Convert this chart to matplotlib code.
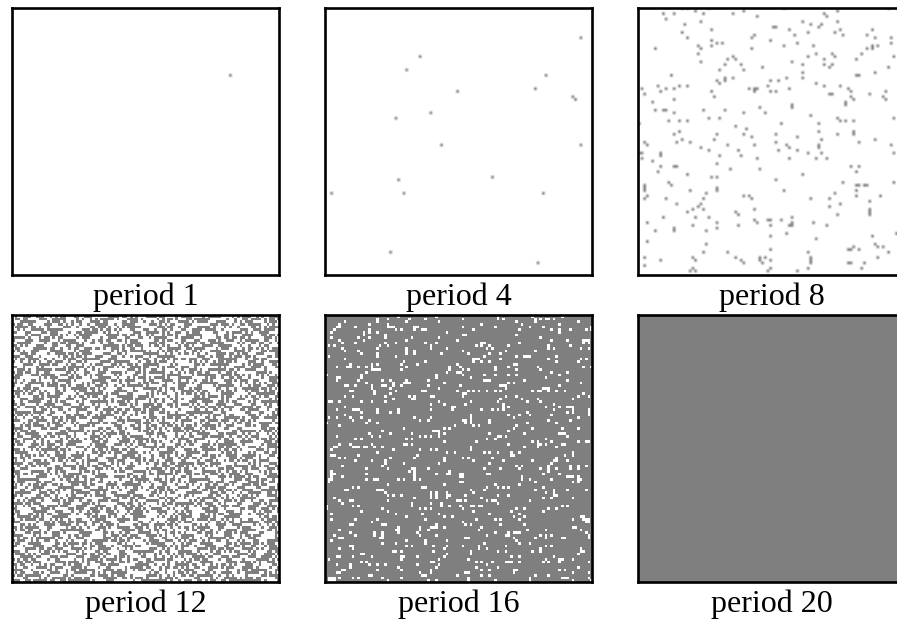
import numpy as np
from matplotlib import pyplot as plt

labels = ['period 1', 'period 4', 'period 8', 'period 12', 'period 16', 'period 20']

# filled cells (grid is 100 x 100) ... (col, row)
period1_cells = [(81, 25)]
period4_cells = [(95, 11), (35, 18), (30, 23), (82, 25), (78, 30), (49, 31), (92, 33), (93, 34), (39, 39), (26, 41),
                 (43, 51), (95, 51), (62, 63), (27, 64), (2, 69), (29, 69), (81, 69), (24, 91), (79, 95)]

# row : cols
period8_rows = {
    0: [16, 18, 26, 54, 93], 1: [21, 39, 74], 2: [9, 13, 24, 35, 69], 3: [44, 70], 4: [10], 5: [23, 61, 74],
    6: [17, 64, 68], 7: [50, 51, 67], 8: [27, 56, 75, 87], 9: [16, 63, 73], 10: [43, 58, 76, 85], 11: [18, 42, 88, 94],
    12: [27, 49], 13: [29, 31, 59, 94], 14: [22, 27, 54, 65, 87, 89], 15: [6, 23, 42, 85, 87], 17: [22, 66, 72, 83],
    18: [35, 63, 73, 95], 19: [33, 36, 69, 81], 20: [23, 57], 21: [32, 38, 61, 69, 72], 22: [46, 71, 93], 23: [30, 39],
    24: [61, 88], 25: [12, 81, 82], 26: [32, 35, 55, 61], 27: [29, 32, 49, 52], 28: [30, 66], 29: [7, 15, 18, 48, 69, 75],
    30: [1, 10, 13, 41, 43, 44, 56, 78], 31: [8, 27, 43, 49, 51, 79, 92], 32: [2, 71, 72, 86], 33: [28, 79, 91],
    34: [13, 80, 92], 35: [5, 77], 36: [57, 77], 37: [45, 57], 38: [6, 9, 10, 24, 32], 39: [13, 39, 47], 40: [64],
    41: [26, 30, 74, 95], 42: [11, 15, 18, 75, 77, 80], 43: [0, 53, 67], 44: [36], 45: [40], 46: [15, 67, 80],
    47: [13, 29, 39, 51, 74, 80], 48: [42, 59], 49: [16, 28, 68, 88], 50: [2, 14, 19, 51, 82], 51: [3, 33, 43, 55, 67, 94],
    52: [23, 56, 67], 53: [26, 37, 59, 52], 54: [0, 1, 8, 63, 68, 95], 55: [8, 30, 38], 56: [1, 44, 56, 66, 70], 57: [5],
    58: [29], 59: [8, 13, 14, 79, 82], 60: [34, 45], 61: [7, 81], 62: [18, 61], 63: [27, 29], 64: [51], 65: [11, 76, 95],
    66: [2, 12, 81, 82, 84, 85], 67: [2, 29], 68: [2, 19, 29, 54, 81], 69: [25, 73], 70: [3, 39, 41, 81, 90],
    71: [2, 10, 24, 42, 64, 71], 72: [86], 73: [14, 23, 75], 74: [22, 71], 75: [20, 24, 43, 86], 76: [18, 36, 86],
    77: [37, 74, 86], 78: [9, 21, 26, 57], 79: [43, 48, 49, 53], 80: [3, 29, 44, 57, 65], 81: [20, 37, 49, 56, 57, 70],
    82: [13, 29], 83: [6, 13, 25], 84: [55, 96], 85: [49, 87], 86: [66], 87: [3], 88: [25, 88], 89: [80, 89, 91],
    90: [49, 78, 79, 82], 91: [24, 33, 63, 93], 93: [2, 20, 36, 45, 47, 64, 89], 94: [8, 21, 38, 45, 49, 64],
    95: [39, 46, 64, 78, 79, 84], 96: [2], 97: [20, 49, 63, 83], 98: [19, 21, 48, 59],
}

# period 12 is too dense to read cell by cell, hand estimate of the texture, hex per row
period12_hex = [
    '4E72B19C0F6A3D85E17C2B94F', '6C39F0A57D1E82B46FC0937AD', '1F85D2C7B06E49A3D78F15C2E', 'B30E6A49F27C1D58E03BA6F94',
    '7DA41C86E95F03B2C7D1486AF', '29F7E03B5A8C64D19EF2073BC', 'C61B84DF29073EA65C18BD4F0', '05E3A97C1F6D28B47E09A3C6D',
    'FA2D60B84E3197C5F20DB683A', '873C5F12D9AE06B18C74E5F32', '3E09B7A64C2F1D857B3E0A6C9', 'D4718CE03F5B96A2D1E7C48B0',
    '60FB259DA74C813E6F0B92D57', 'A9C3E178056FD2B49A3C1E86F', '1D84F6BC39A07E52D48F6B1C3', 'E7205AD1C64B93F8072E5DA1B',
    '5BC9173F8E0264ADB9C7F1360', '92A6E4D07BF135C82A96D0E4F', '0F3D8B25C69A7E140D3F82BC6', 'C85017EA3D4F62B9C8051E7A3',
    '3A7EF692B01D4C853A7F69E20', 'B64C0D18E7A35F92B6C4D01E8', '71DF3A95C28640BE17F3DA952', 'E02B86C4F915D7A3E0B26C84F',
    '49A17D03E6BC58F249A1D730E', 'D3F58C2A70916E4BD3F8C52A7', '8617B4E9D25FA0C38617E4B9D', '2EC093F6A1847D5B2E0C93F6A',
    'F5A8D172C3E60B49F58AD172C', '6B34E09FD7182AC56B43E09FD', 'A0D7C56B31F9E8240D7AC56B3', '1CF28E30A47BD6951FC28E30A',
    '93E6B0A7F5D2148C39E6B0A7F', 'D84F1C6290EA7B35D48F1C629', '27B5E3D98A0C6F142B75E3D98', 'C09A64F13DB75E820C9A46F13',
    '7EF3108C5B62D9A47FE3018C5', 'B5260DE97C4A183FB25D60E97', '48D1AF73E2905CB648D1FA73E', 'E3796B04C1DF2A85E37B96A04',
    '0AC5D28FB64371E90AC52D8FB', '96F4E17A038D2CB569F4E1A70', 'F21B8C60D9A7354EF2B18C06D', '5D8037EBA4C1692F5D0837EBA',
    'A7C6F9125ED03B84A7C6F2915', '31EB4D07A86F92C531BE4D70A', 'CF502A96D173E84BCF05A296D', '6894E7C3B0F5AD126849E7C3B',
    'B1D72F05E3A9C486B1D7F205E', '03A6C8E9F4127DB503A6C8E9F', 'E95FB412D76C0A38E9F5B41D2', '7C28D0A36B9E51F47C82D0A36',
    '16B4F3E8C27D09A561B4F3E8C', 'DA0375C91E6F48B2DA3075C91', '48E96B2F0DC35A7184E96B2F0', 'F37C10A8E54926DBF73C10A8E',
    '25A8DF6B391C04E752A8DF6B3', '9C06E371D4B82F5AC906E371D', 'E1F4B05A82C7D396E1F4B50A8', '6D3A97C2E0185BF46D3A79C2E',
    'A0785EB1F3D6C249A0875EB1F', '3FC12D96408BE75A3FC21D964', 'B86E07F4CA3951D2B86E70F4C', '52D9A3B61E7F08C452D9A3B61',
    'C4F07E18D5269BA3C4F70E18D', '19A6D3C7F08E25B419A6D3C7F', '7E3B42F9A61C0D587E3B24F9A', 'D06C8B15E3F79A42D06C8B51E',
    '85F2A7E0396DC1B485F2A7E03', '2B91D64CF70A3E582B19D64CF', 'F6E05C3A81D942B7F6E50C3A8', '4A37B8F1E26D90C54A73B8F1E',
    'C19D06E75A3B4F28C1D906E75', '60F8E24B9D17A3C560F8E42B9', 'A3567C9D0E2F814BA3567C9D0', '3ED1F80B6A47C295E3D1F80B6',
    '97B2A4C5E1F6083D97B2A4C5E', 'E04D76F3B8C1925AE04D67F3B', '1A8F3C925D06E7B41A8F3C295', 'D7C60B48E9F3A512D7C60B84E',
    '5B243FE1A07D96C85B24F3E1A', '86E9D07C34B1F25A86E9D70C3', 'F0A1C5B8276E3D49F0A1C5B82', '2D7F64E03A9B18C5D27F64E03',
    'B94C8A13F6D05E72B94C8A31F', '63E0D7B5C1A42F8963E0D7B5C', 'C8F19A26E47B03D5C8F19A62E', '07B6E3D4F9281CA507B6E3D4F',
    'E42D58A1B0C7F963E42D58A1B', '7A9C0F36D8E1452B7A9C0F63D', '1F63B8E7A2D0C4951F63B8E7A', 'AD84C12F5E9637B0AD84C21F5',
    '36E0F7A9C4D1B82563E0F7A9C', 'D92B15C86F03E4A7D92B51C86', '4C7AE3D0982FB16D4C7AE3D09', 'F1068B7E3DA5C942F1608B7E3',
    '58D3C9F2A7E0164B58D3C9F2A', 'B7E41A06F5C83D29B7E4A106F', '0C29F5D83E6BA1740C29F5D83', 'E6FB37FA1C04FFD2E6B37FFA1',
]

# white cells of period 16, read quarter by quarter ... (col, row)
period16_white = [
    # upper left
    (27, 0), (41, 0), (19, 1), (19, 2), (23, 1), (31, 1), (37, 1), (30, 2), (7, 2), (16, 3), (42, 2), (5, 3), (4, 4), (5, 4),
    (23, 3), (23, 4), (24, 4), (25, 4), (11, 4), (33, 4), (33, 5), (34, 4), (26, 5), (28, 5), (16, 5), (16, 6), (36, 5), (37, 5),
    (3, 5), (2, 6), (14, 6), (14, 7), (19, 6), (45, 6), (22, 7), (12, 8), (16, 8), (22, 8), (32, 8), (30, 9), (14, 9), (42, 8),
    (5, 9), (2, 8), (6, 10), (11, 10), (22, 10), (26, 10), (37, 10), (41, 10), (39, 11), (39, 12), (1, 11), (3, 11), (6, 12),
    (20, 11), (19, 12), (23, 11), (45, 12), (30, 12), (30, 13), (30, 14), (33, 13), (33, 14), (7, 13), (12, 13), (13, 14),
    (19, 14), (19, 15), (43, 14), (1, 15), (26, 15), (7, 16), (29, 17), (37, 17), (28, 18), (34, 18), (9, 18), (19, 18), (17, 18),
    (17, 19), (8, 19), (9, 19), (4, 19), (12, 19), (15, 19), (30, 19), (49, 18), (46, 19), (46, 20), (28, 20), (17, 20), (18, 20),
    (19, 20), (20, 20), (15, 21), (45, 21), (49, 21), (0, 22), (13, 22), (13, 23), (41, 22), (41, 23), (4, 23), (5, 23), (4, 24),
    (12, 24), (21, 24), (24, 24), (38, 24), (30, 24), (29, 25), (30, 25), (31, 25), (25, 25), (15, 25), (17, 26), (11, 26), (8, 26),
    (7, 26), (21, 26), (22, 26), (44, 25), (38, 26), (28, 26), (25, 26), (24, 27), (17, 27), (18, 28), (42, 27), (9, 28), (10, 28),
    (26, 28), (36, 28), (37, 28), (24, 29), (18, 29), (7, 30), (10, 30), (22, 30), (31, 30), (33, 30), (39, 30), (40, 30), (32, 31),
    (33, 31), (25, 31), (5, 32), (1, 32), (2, 32), (13, 32), (17, 32), (22, 32), (42, 32), (39, 33), (44, 33), (7, 34), (4, 35),
    (10, 35), (11, 35), (12, 35), (19, 35), (19, 36), (27, 35), (27, 36), (39, 35), (47, 34), (47, 35), (48, 34), (24, 36), (13, 36),
    (7, 37), (1, 38), (4, 38), (9, 38), (13, 38), (33, 38), (39, 38), (10, 39), (35, 39), (38, 39), (0, 40), (16, 39), (15, 40),
    (19, 40), (5, 41), (48, 41), (46, 42), (44, 42), (29, 42), (21, 43), (24, 44), (40, 43), (41, 43), (42, 43), (42, 44), (42, 45),
    (32, 44), (44, 44), (16, 44), (17, 45), (20, 45), (4, 45), (35, 45), (37, 45), (39, 45), (11, 46), (13, 46), (30, 46), (32, 46),
    (44, 47), (29, 48), (30, 48), (32, 48), (5, 48), (4, 49), (9, 48), (11, 49), (17, 48), (14, 49), (15, 49), (18, 49), (21, 49),
    # upper right
    (64, 0), (64, 1), (66, 1), (51, 1), (77, 0), (78, 1), (78, 2), (80, 1), (82, 1), (83, 1), (85, 1), (88, 0), (71, 2), (94, 2),
    (58, 3), (73, 3), (87, 3), (63, 4), (51, 4), (76, 4), (81, 4), (99, 4), (99, 5), (55, 5), (72, 5), (87, 5), (87, 6), (84, 5),
    (91, 5), (97, 5), (51, 7), (52, 7), (71, 7), (80, 8), (84, 9), (90, 9), (96, 9), (97, 9), (98, 9), (96, 10), (98, 10), (49, 9),
    (72, 10), (58, 10), (59, 10), (68, 11), (83, 11), (91, 11), (61, 11), (62, 12), (56, 11), (58, 11), (60, 12), (83, 12), (85, 12),
    (95, 12), (98, 12), (78, 13), (67, 13), (65, 14), (51, 13), (53, 14), (61, 14), (59, 15), (55, 16), (56, 16), (57, 16), (55, 17),
    (61, 17), (58, 17), (65, 16), (71, 15), (74, 15), (75, 15), (76, 15), (83, 16), (86, 15), (86, 17), (94, 17), (97, 16), (95, 16),
    (49, 18), (70, 18), (71, 18), (68, 19), (71, 20), (79, 19), (80, 20), (63, 19), (63, 20), (96, 19), (99, 19), (50, 19), (51, 20),
    (50, 21), (51, 22), (53, 20), (84, 21), (90, 21), (68, 22), (71, 22), (59, 22), (63, 22), (82, 23), (87, 22), (54, 23), (59, 24),
    (60, 24), (61, 24), (90, 24), (74, 24), (68, 25), (70, 25), (95, 25), (50, 26), (65, 26), (66, 26), (67, 26), (67, 27), (87, 26),
    (81, 27), (82, 27), (83, 27), (53, 28), (55, 28), (57, 28), (60, 28), (63, 28), (65, 28), (77, 28), (79, 28), (80, 28), (83, 28),
    (86, 28), (89, 28), (49, 28), (51, 29), (52, 29), (51, 30), (96, 29), (98, 30), (67, 30), (71, 30), (94, 30), (92, 31), (79, 31),
    (80, 32), (73, 31), (75, 32), (64, 32), (65, 31), (52, 33), (54, 32), (66, 33), (66, 34), (66, 35), (68, 34), (85, 33), (87, 34),
    (90, 34), (91, 34), (92, 34), (92, 35), (92, 36), (90, 36), (82, 34), (64, 35), (62, 35), (58, 35), (85, 35), (75, 36), (76, 37),
    (98, 35), (98, 36), (98, 37), (68, 37), (72, 37), (70, 38), (84, 37), (94, 38), (54, 37), (54, 38), (54, 39), (54, 40), (51, 39),
    (52, 39), (52, 40), (61, 39), (61, 40), (83, 39), (91, 39), (86, 40), (55, 41), (57, 41), (71, 41), (70, 42), (68, 43), (75, 40),
    (77, 42), (88, 42), (94, 42), (61, 44), (74, 44), (87, 44), (88, 44), (89, 44), (90, 45), (94, 47), (97, 47), (98, 47), (64, 45),
    (65, 45), (67, 45), (63, 46), (60, 46), (56, 47), (82, 46), (84, 47), (68, 48), (77, 47), (79, 47), (79, 48), (79, 49), (80, 48),
    (74, 49), (82, 48), (88, 48), (89, 48), (54, 49), (86, 49),
    # lower left
    (3, 49), (2, 50), (10, 49), (12, 49), (25, 50), (35, 50), (39, 50), (41, 50), (19, 51), (45, 51), (48, 51), (2, 52), (3, 52),
    (12, 52), (5, 53), (7, 53), (11, 54), (24, 53), (34, 52), (33, 53), (44, 53), (44, 54), (22, 54), (22, 55), (17, 54), (29, 55),
    (42, 55), (6, 56), (21, 56), (23, 57), (15, 57), (38, 57), (31, 58), (32, 57), (33, 57), (33, 58), (33, 59), (33, 60), (46, 58),
    (46, 59), (2, 58), (2, 59), (2, 60), (2, 61), (3, 59), (1, 61), (15, 59), (41, 59), (45, 59), (6, 60), (15, 61), (18, 61), (19, 61),
    (27, 61), (29, 61), (33, 61), (35, 61), (1, 62), (23, 63), (44, 63), (37, 64), (36, 64), (12, 64), (10, 64), (8, 65), (7, 65),
    (19, 65), (20, 65), (21, 65), (22, 66), (23, 67), (25, 67), (28, 67), (39, 66), (39, 67), (39, 68), (41, 66), (41, 67), (41, 68),
    (45, 66), (45, 67), (45, 68), (46, 67), (3, 68), (9, 69), (10, 69), (5, 69), (6, 70), (23, 69), (33, 68), (49, 69), (32, 70),
    (32, 71), (39, 70), (43, 70), (43, 71), (46, 71), (10, 71), (12, 71), (0, 71), (0, 72), (21, 72), (23, 73), (35, 72), (37, 72),
    (39, 72), (2, 74), (13, 73), (26, 74), (42, 74), (44, 75), (47, 75), (30, 75), (36, 74), (2, 76), (11, 76), (19, 76), (17, 77),
    (37, 76), (9, 78), (10, 78), (21, 78), (22, 78), (39, 79), (40, 79), (41, 79), (41, 78), (27, 79), (27, 80), (27, 81), (44, 79),
    (26, 80), (35, 79), (35, 80), (5, 80), (9, 81), (18, 81), (18, 82), (21, 81), (21, 82), (21, 83), (11, 82), (34, 81), (35, 82),
    (38, 80), (41, 82), (3, 82), (5, 83), (6, 83), (20, 83), (2, 84), (30, 84), (45, 84), (37, 84), (37, 85), (21, 85), (26, 85),
    (30, 86), (32, 86), (40, 86), (45, 86), (9, 86), (10, 86), (10, 87), (5, 87), (44, 87), (40, 88), (25, 88), (26, 88), (28, 88),
    (13, 89), (14, 89), (45, 89), (4, 90), (5, 90), (10, 90), (17, 90), (28, 90), (29, 90), (34, 90), (44, 90), (1, 91), (28, 91),
    (42, 91), (13, 92), (15, 92), (39, 92), (40, 92), (4, 93), (9, 93), (16, 93), (19, 93), (22, 93), (34, 93), (42, 93), (9, 94),
    (27, 94), (19, 95), (41, 94), (6, 95), (7, 95), (4, 96), (5, 96), (28, 95), (39, 95), (35, 96), (36, 97), (37, 97), (39, 96),
    (16, 97), (17, 97), (21, 98), (10, 98), (12, 98), (28, 98), (5, 98), (49, 97), (1, 98), (2, 98), (3, 98), (1, 99), (2, 99), (3, 99),
    (23, 99), (38, 99), (41, 99),
    # lower right
    (54, 50), (59, 51), (61, 51), (64, 51), (69, 51), (72, 51), (69, 52), (70, 52), (92, 51), (92, 52), (89, 52), (51, 53), (53, 53),
    (62, 53), (55, 54), (66, 54), (77, 54), (86, 53), (86, 54), (85, 54), (84, 55), (90, 54), (61, 55), (91, 56), (91, 57), (94, 56),
    (94, 57), (97, 56), (86, 57), (83, 56), (83, 57), (83, 58), (80, 57), (71, 56), (73, 56), (72, 57), (65, 57), (59, 57), (60, 59),
    (61, 59), (50, 59), (51, 59), (50, 60), (51, 60), (81, 59), (87, 59), (73, 60), (73, 61), (76, 61), (78, 62), (84, 61), (90, 60),
    (91, 60), (92, 60), (94, 60), (94, 61), (95, 61), (94, 62), (92, 62), (50, 62), (51, 62), (63, 63), (64, 64), (66, 64), (68, 64),
    (72, 63), (60, 64), (59, 65), (58, 68), (54, 65), (55, 66), (78, 65), (81, 64), (85, 65), (85, 66), (85, 67), (90, 65), (97, 65),
    (82, 66), (86, 67), (68, 67), (64, 67), (52, 67), (81, 68), (84, 68), (92, 68), (49, 69), (50, 69), (52, 69), (60, 69), (62, 69),
    (63, 69), (64, 70), (76, 69), (50, 71), (51, 72), (54, 71), (55, 71), (57, 71), (58, 71), (88, 71), (90, 71), (83, 72), (86, 72),
    (71, 72), (74, 72), (69, 73), (81, 73), (55, 73), (61, 74), (72, 74), (70, 75), (74, 75), (72, 76), (63, 76), (65, 76), (56, 76),
    (92, 76), (95, 75), (96, 75), (96, 76), (97, 76), (98, 76), (97, 77), (98, 77), (51, 77), (52, 78), (54, 78), (65, 78), (74, 78),
    (92, 79), (93, 79), (58, 79), (57, 80), (75, 80), (82, 80), (95, 80), (97, 81), (63, 81), (70, 81), (71, 81), (72, 81), (67, 82),
    (68, 82), (68, 81), (60, 82), (82, 82), (82, 83), (80, 82), (78, 83), (84, 82), (52, 83), (53, 83), (70, 83), (88, 83), (89, 83),
    (98, 82), (98, 83), (71, 84), (72, 85), (76, 85), (59, 85), (51, 86), (57, 86), (57, 87), (67, 86), (82, 86), (84, 86), (80, 87),
    (80, 88), (77, 88), (67, 88), (64, 88), (60, 87), (54, 88), (54, 89), (95, 87), (95, 88), (96, 88), (94, 89), (69, 90), (72, 90),
    (82, 91), (85, 90), (53, 91), (87, 91), (88, 91), (87, 92), (92, 91), (98, 92), (67, 92), (68, 92), (69, 92), (72, 92), (56, 92),
    (81, 92), (83, 92), (58, 92), (60, 93), (62, 92), (56, 94), (64, 94), (70, 95), (71, 95), (94, 94), (58, 95), (61, 95), (52, 96),
    (53, 96), (70, 96), (78, 97), (58, 97), (61, 97), (83, 97), (49, 97), (87, 95), (89, 95), (98, 96), (92, 96), (53, 98), (53, 99),
    (63, 99), (76, 98), (76, 99), (88, 98), (89, 98), (90, 98), (92, 99), (98, 98), (99, 99),
]


def cells_to_grid(cells):
    grid = np.zeros((100, 100))
    for col, row in cells:
        grid[row, col] = 1
    return grid


period8_cells = [(c, r) for r in period8_rows for c in period8_rows[r]]
period12_grid = np.array([[int(b) for b in bin(int(h, 16))[2:].zfill(100)] for h in period12_hex])

grids = [cells_to_grid(period1_cells),
         cells_to_grid(period4_cells),
         cells_to_grid(period8_cells),
         period12_grid,
         1 - cells_to_grid(period16_white),
         np.ones((100, 100))]

# bilinear keeps the lone dots from dropping out, dense panels stay crisp
interp = ['bilinear', 'bilinear', 'bilinear', 'nearest', 'nearest', 'nearest']

W, H = 897, 620
fig = plt.figure(figsize=(W/100, H/100), dpi=100, facecolor='white')

lefts = [12, 325, 638]
tops = [8, 315]
size = 267

for i in range(6):
    x0 = lefts[i % 3]
    y0 = tops[i // 3]
    ax = fig.add_axes([x0/W, 1-(y0+size)/H, size/W, size/H])
    ax.imshow(grids[i], cmap='gray_r', vmin=0, vmax=2, interpolation=interp[i], aspect='auto')
    ax.set_xticks([])
    ax.set_yticks([])
    for s in ax.spines.values():
        s.set_linewidth(1.9)
        s.set_color('black')
    # label baseline sits 29px under the frame
    fig.text((x0+size/2)/W, 1-(y0+size+30)/H, labels[i], ha='center', va='baseline',
             family='Liberation Serif', fontsize=23, color='black')

plt.savefig('out.png', dpi=100)
